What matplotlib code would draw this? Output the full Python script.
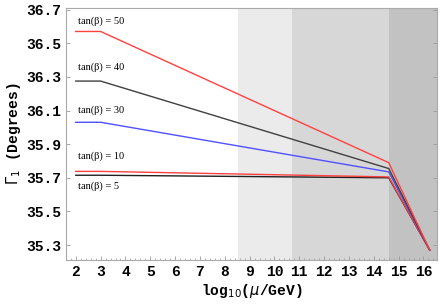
import matplotlib
matplotlib.use("Agg")
import matplotlib.pyplot as plt
from matplotlib.ticker import MultipleLocator

# data
x_pts = [2, 3, 14.6, 16.25]
tb50 = [36.57, 36.57, 35.79, 35.27]
tb40 = [36.275, 36.275, 35.755, 35.27]
tb30 = [36.03, 36.03, 35.735, 35.27]
tb10 = [35.738, 35.738, 35.705, 35.27]
tb5 = [35.715, 35.715, 35.700, 35.27]
regions = [(8.55, 10.7), (10.7, 14.6), (14.6, 16.6)]
region_colors = ["#ebebeb", "#d7d7d7", "#c2c2c2"]
labels = ["tan(β) = 50", "tan(β) = 40", "tan(β) = 30", "tan(β) = 10", "tan(β) = 5"]
label_y = [36.63, 36.36, 36.1, 35.83, 35.65]

fig = plt.figure(figsize=(4.42, 3.05), dpi=100)
ax = fig.add_axes([0.149, 0.147, 0.840, 0.827])

for (a, b), c in zip(regions, region_colors):
    ax.axvspan(a, b, color=c, lw=0, zorder=0)

series = [(tb50, "#ff4040"), (tb40, "#404040"), (tb30, "#5050ff"), (tb10, "#ff4040"), (tb5, "#202020")]
for ys, c in series[::-1]:
    ax.plot(x_pts, ys, color=c, lw=1.0, zorder=2)

for lab, ly in zip(labels, label_y):
    ax.text(2.1, ly, lab, family="Liberation Serif", fontsize=7.5, va="center", ha="left")

ax.set_xlim(1.6, 16.55)
ax.set_ylim(35.21, 36.71)
ax.set_xticks(range(2, 17))
ax.set_yticks([35.3, 35.5, 35.7, 35.9, 36.1, 36.3, 36.5, 36.7])
ax.set_yticklabels(["35.3", "35.5", "35.7", "35.9", "36.1", "36.3", "36.5", "36.7"])
ax.xaxis.set_minor_locator(MultipleLocator(0.2))
ax.tick_params(axis="both", which="both", direction="in", colors="#999999",
               labelcolor="black", top=False, right=True)
ax.tick_params(axis="x", which="major", length=3, width=0.6)
ax.tick_params(axis="x", which="minor", length=1.5, width=0.5)
ax.tick_params(axis="y", which="major", length=3, width=0.6)
for lab in ax.get_xticklabels() + ax.get_yticklabels():
    lab.set_family("Liberation Mono")
    lab.set_fontsize(10.5)
    lab.set_fontweight("bold")
for s in ax.spines.values():
    s.set_color("#aaaaaa")
    s.set_linewidth(0.8)

ax.set_xlabel(r"log$_{10}$($\mu$/GeV)", family="Liberation Mono", fontsize=10.5,
              fontweight="bold", labelpad=2)
ax.set_ylabel(r"$\Gamma_1$ (Degrees)", family="Liberation Mono", fontsize=10.5,
              fontweight="bold", labelpad=2)

fig.savefig("out.png", dpi=100)
